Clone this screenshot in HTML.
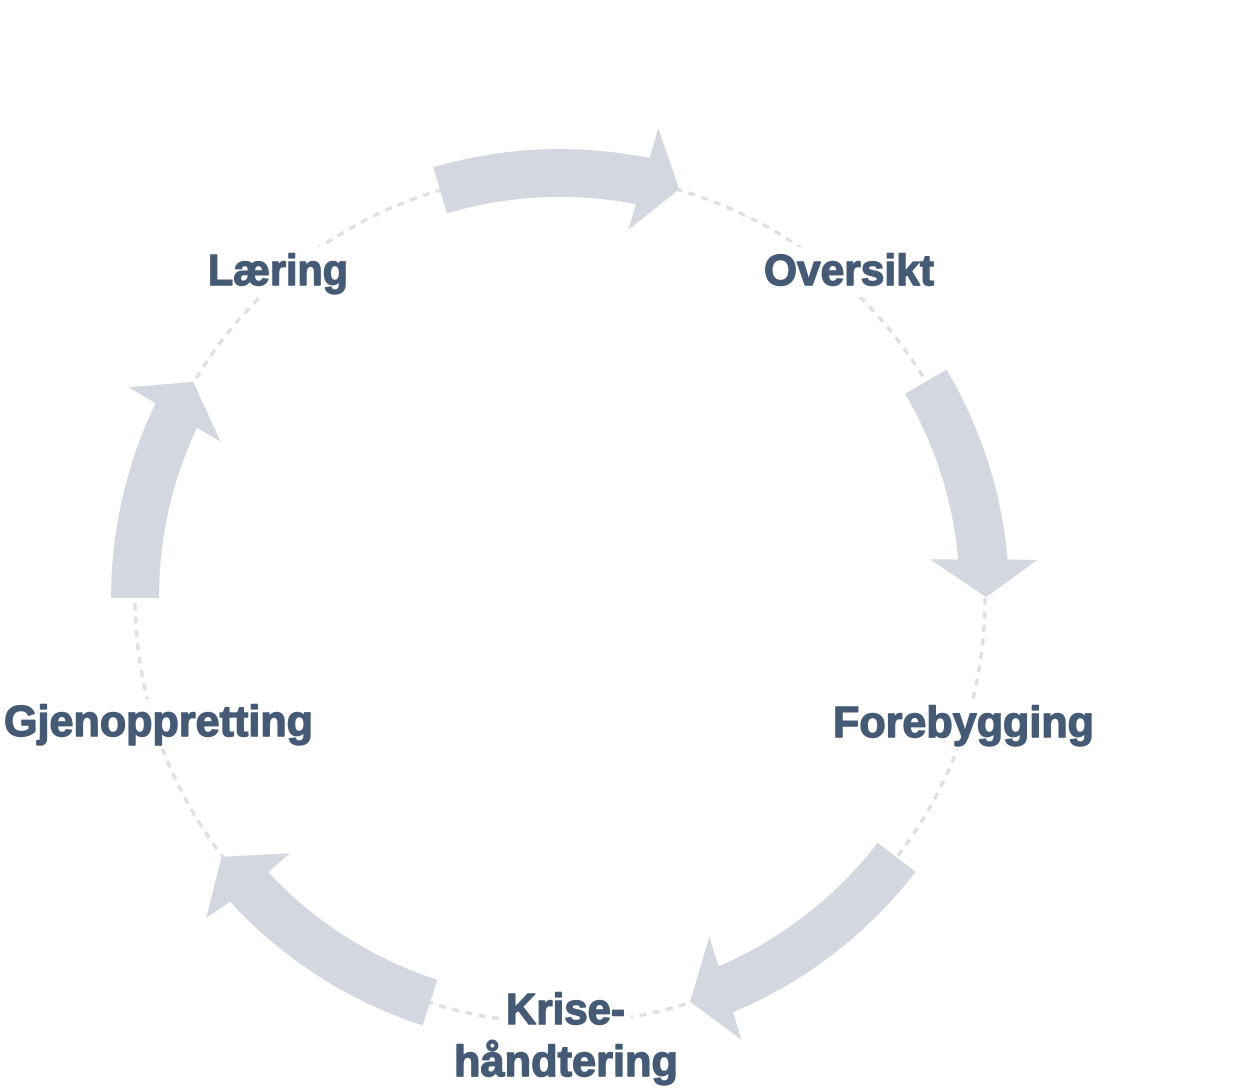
<!DOCTYPE html>
<html>
<head>
<meta charset="utf-8">
<style>
  html, body { margin: 0; padding: 0; background: #ffffff; }
  body { width: 1237px; height: 1090px; overflow: hidden; }
  svg { display: block; }
  .lbl { font-family: "Liberation Sans", "DejaVu Sans", sans-serif; font-weight: bold; font-size: 44px; fill: #455a74; stroke: #455a74; stroke-width: 1.4px; stroke-linejoin: round; }
</style>
</head>
<body>
<svg width="1237" height="1090" viewBox="0 0 1237 1090" xmlns="http://www.w3.org/2000/svg">
  <rect x="0" y="0" width="1237" height="1090" fill="#ffffff"/>
  <!-- dashed circle -->
  <circle cx="560" cy="598" r="425" fill="none" stroke="#dfe0e5" stroke-width="3.5" stroke-dasharray="7 6.5"/>

  <!-- arrows -->
  <g fill="#d3d8e0">
    <path d="M 433.2 167.3 A 449 449 0 0 1 649.5 158.0 L 658.3 128.3 L 679.3 189.3 L 628.3 230 L 635.9 204.1 A 401 401 0 0 0 446.8 213.3 Z"/>
    <path d="M 946.5 369.5 A 449 449 0 0 1 1007.7 559.5 L 1037.3 560 L 986 597.3 L 930 559.3 L 958.3 559.5 A 401 401 0 0 0 905.1 393.9 Z"/>
    <path d="M 915.7 871.9 A 449 449 0 0 1 733.0 1012.3 L 741.7 1040 L 690 1001.7 L 709.3 936.7 L 718.6 966.3 A 401 401 0 0 0 877.7 842.7 Z"/>
    <path d="M 422.7 1025.5 A 449 449 0 0 1 230 901.7 L 206 918.3 L 221.7 856.7 L 290 853.3 L 268.3 872.3 A 401 401 0 0 0 437.4 979.8 Z"/>
    <path d="M 159 598 A 401 401 0 0 1 197 427.7 L 220.7 441.7 L 193.3 381.7 L 128.3 387.3 L 155.5 403.3 A 449 449 0 0 0 111 598 Z"/>
  </g>

  <!-- white backgrounds behind labels -->
  <g fill="#ffffff">
    <rect x="204" y="247" width="148" height="50"/>
    <rect x="759" y="247" width="179" height="50"/>
    <rect x="828" y="699" width="270" height="50"/>
    <rect x="0" y="699" width="318" height="50"/>
    <rect x="501" y="987" width="130" height="47"/>
  </g>

  <!-- labels -->
  <text class="lbl" x="208" y="285" textLength="140" lengthAdjust="spacingAndGlyphs">Læring</text>
  <text class="lbl" x="764" y="285" textLength="170" lengthAdjust="spacingAndGlyphs">Oversikt</text>
  <text class="lbl" x="833" y="737" textLength="261" lengthAdjust="spacingAndGlyphs">Forebygging</text>
  <text class="lbl" x="4" y="736" textLength="309" lengthAdjust="spacingAndGlyphs">Gjenoppretting</text>
  <text class="lbl" x="506" y="1024" textLength="119" lengthAdjust="spacingAndGlyphs">Krise-</text>
  <text class="lbl" x="454" y="1076" textLength="224" lengthAdjust="spacingAndGlyphs">håndtering</text>
</svg>
</body>
</html>
